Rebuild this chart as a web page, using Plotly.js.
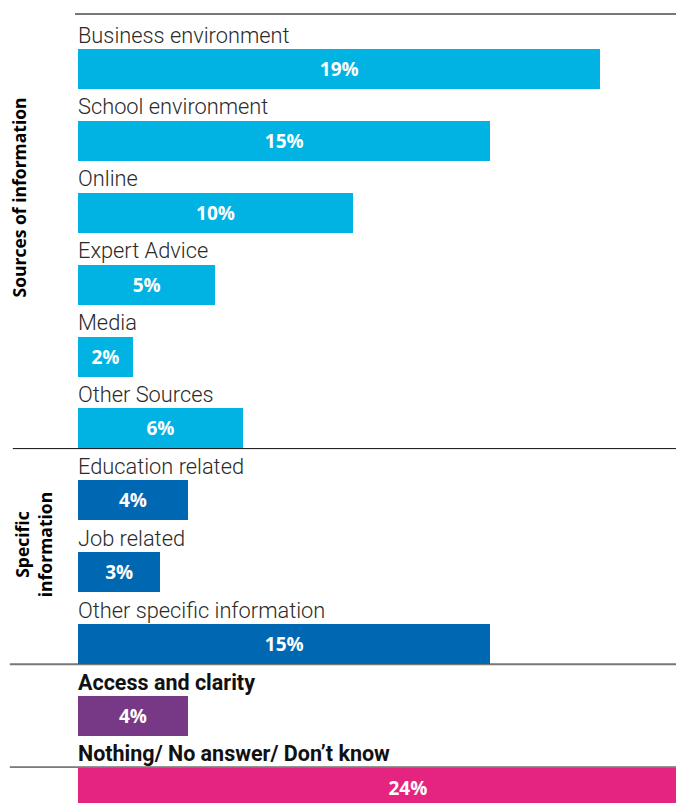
<!DOCTYPE html>
<html>
<head>
<meta charset="utf-8">
<script src="https://cdn.plot.ly/plotly-3.0.1.min.js"></script>
<style>html,body{margin:0;padding:0;background:#fff;}#chart{width:676px;height:803px;}</style>
</head>
<body>
<div id="chart"></div>
<script>
var categories = ["Business environment", "School environment", "Online", "Expert Advice", "Media", "Other Sources",
  "Education related", "Job related", "Other specific information", "Access and clarity", "Nothing/ No answer/ Don\u2019t know"];
var values = [19, 15, 10, 5, 2, 6, 4, 3, 15, 4, 24];
var groups = ["src", "src", "src", "src", "src", "src", "spec", "spec", "spec", "access", "nothing"];
var groupColors = {src: "#00b3e3", spec: "#0068b2", access: "#773886", nothing: "#e52480"};
var boldLabels = {access: true, nothing: true};
var groupTitles = [
  {text: "Sources of information", cat: 1.79, x: -0.099},
  {text: "Specific<br>information", cat: 6.62, x: -0.073}
];
var separators = [
  {pos: -0.765, x0: -0.005, color: "#777777", width: 2},
  {pos: 5.28, x0: -0.109, color: "#111111", width: 1},
  {pos: 8.28, x0: -0.114, color: "#777777", width: 2},
  {pos: 9.71, x0: -0.114, color: "#111111", width: 1}
];

var trace = {
  type: "bar",
  orientation: "h",
  y: categories,
  x: values,
  width: 0.556,
  marker: {color: groups.map(function (g) { return groupColors[g]; }), line: {width: 0}},
  text: values.map(function (v) { return v + "%"; }),
  textposition: "inside",
  insidetextanchor: "middle",
  textangle: 0,
  textfont: {family: "Open Sans", size: 19, color: "#ffffff", weight: 700},
  hoverinfo: "skip",
  cliponaxis: true
};

var annotations = categories.map(function (c, i) {
  var bold = !!boldLabels[groups[i]];
  return {
    xref: "paper", yref: "y", x: 0, y: c, xanchor: "left", yanchor: "middle",
    yshift: 34, xshift: -2, showarrow: false,
    text: bold ? "<b>" + c + "</b>" : c,
    font: {family: "Roboto", size: bold ? 21.5 : 21.8, color: bold ? "#111111" : "#2a2a2a", weight: bold ? 700 : 300}
  };
});
groupTitles.forEach(function (g) {
  annotations.push({
    xref: "paper", yref: "y", x: g.x, y: g.cat, xanchor: "center", yanchor: "middle",
    showarrow: false, textangle: -90, text: "<b>" + g.text + "</b>",
    font: {family: "Open Sans", size: 17.5, color: "#000000"}
  });
});

var shapes = separators.map(function (s) {
  return {type: "line", xref: "paper", yref: "y", x0: s.x0, x1: 1, y0: s.pos, y1: s.pos,
    line: {color: s.color, width: s.width}, layer: "below"};
});

var layout = {
  width: 676, height: 803,
  margin: {l: 78, r: 0, t: 0, b: 0, pad: 0},
  paper_bgcolor: "#ffffff", plot_bgcolor: "#ffffff",
  showlegend: false,
  bargap: 0,
  xaxis: {range: [0, 21.75], visible: false, fixedrange: true},
  yaxis: {type: "category", range: [10.21, -0.96], visible: false, fixedrange: true},
  annotations: annotations,
  shapes: shapes,
  uniformtext: {mode: false}
};

Plotly.newPlot("chart", [trace], layout, {displayModeBar: false, staticPlot: true});
</script>
</body>
</html>
